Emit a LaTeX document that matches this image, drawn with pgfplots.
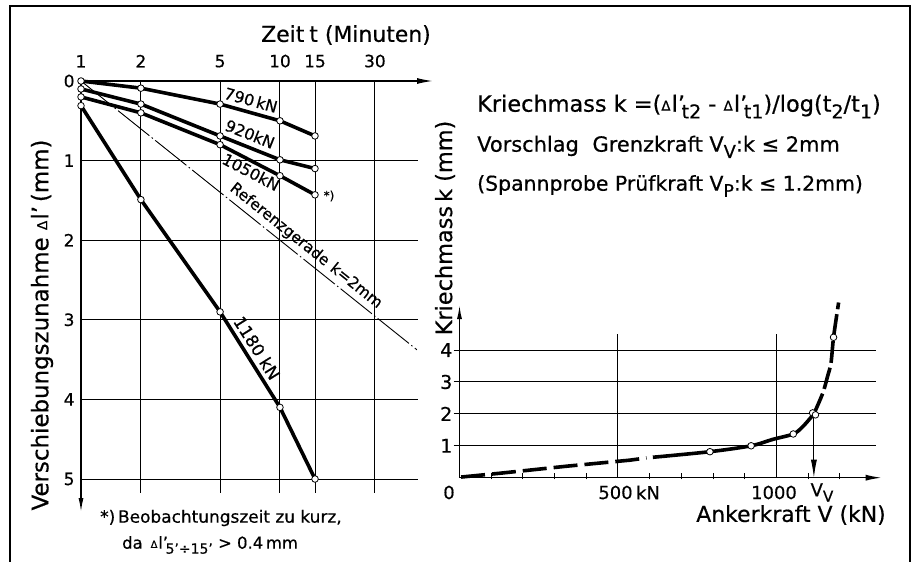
\documentclass[border=0pt]{standalone}
\usepackage{fontspec}
\setmainfont{DejaVu Sans}[FakeBold=0.5]
\usepackage{graphicx}
\usepackage{pgfplots}
\pgfplotsset{compat=1.18}
\usetikzlibrary{arrows.meta}
\newcommand\fs[1]{\fontsize{#1}{#1}\selectfont}
\newcommand\dl{\raisebox{0.05em}{\scalebox{0.6}{Δ}}\kern0.05em l'}
\newcommand\sub[1]{\raisebox{-0.3em}{\scalebox{0.85}{#1}}}
\pgfplotsset{ser/.style={line width=3.6bp, black, mark=*, mark size=3.3bp,
  mark options={fill=white, draw=black, line width=0.8bp, solid}}}
\begin{document}
\begin{tikzpicture}
\useasboundingbox (0,0) rectangle (917bp,562bp);
\fill[white] (0,0) rectangle (917bp,562bp);
\draw[line width=1.5bp] (10bp,-10bp) rectangle (910bp,556bp);

\begin{axis}[at={(81bp,481bp)}, anchor=north west, scale only axis,
 width=337bp, height=412bp,
 xmode=log, xmin=1, xmax=49.4, ymin=0, ymax=5.176, y dir=reverse,
 axis x line*=top, axis y line*=left,
 x axis line style={line width=1.4bp, -{Latex[length=16bp,width=6bp]}, shorten >=-15bp},
 y axis line style={line width=1.4bp, -{Latex[length=14bp,width=5bp]}, shorten >=-19bp},
 xtick={1,2,5,10,15,30}, xticklabels={1,2,5,10,15,30},
 ytick={0,1,2,3,4,5}, yticklabels={0,1,2,3,4,5},
 major tick length=0pt,
 xmajorgrids, ymajorgrids, grid style={line width=1bp, black},
 tick label style={font=\fs{17}},
 xticklabel style={yshift=10bp},
 yticklabel style={xshift=-3bp},
 clip=false]
\addplot[ser] coordinates {(1,0) (2,0.09) (5,0.29) (10,0.50) (15,0.69)};
\addplot[ser] coordinates {(1,0.10) (2,0.29) (5,0.69) (10,0.99) (15,1.10)};
\addplot[ser] coordinates {(1,0.20) (2,0.40) (5,0.80) (10,1.19) (15,1.43)};
\addplot[ser] coordinates {(1,0.31) (2,1.49) (5,2.90) (10,4.10) (15,5.0)};
\addplot[line width=0.9bp, black, dash pattern=on 40bp off 3bp on 1.5bp off 3bp] coordinates {(1,0) (48.8,3.377)};
\end{axis}

\begin{axis}[at={(459.5bp,84.3bp)}, anchor=south west, scale only axis,
 width=416.2bp, height=143.6bp,
 xmin=0, xmax=1313, ymin=0, ymax=4.5,
 axis x line*=bottom, axis y line*=left,
 x axis line style={line width=1.4bp, -{Latex[length=16bp,width=6bp]}, shorten >=-6bp},
 y axis line style={line width=1.4bp, -{Latex[length=14bp,width=5bp]}, shorten >=-29bp},
 xtick={500,1000}, xticklabels={,,}, ytick={1,2,3,4}, yticklabels={1,2,3,4},
 xmajorgrids, ymajorgrids, grid style={line width=1bp, black},
 tick align=outside, major tick length=6bp,
 xtick style={draw=none}, ytick style={line width=1bp, black},
 yticklabel style={font=\fs{19}, inner sep=1bp},
 clip=false]
\pgfplotsinvokeforeach{100,200,300,400,600,700,800,900,1100,1200}{
  \draw[line width=1bp] (axis cs:#1,-0.05) -- (axis cs:#1,0.16);}
\addplot[line width=3.6bp, black, dash pattern=on 24bp off 7bp] coordinates {(5,0.02) (128,0.14) (338,0.36) (538,0.55) (590,0.62)};
\addplot[line width=3.6bp, black, smooth] coordinates {(610,0.64) (790,0.815) (920,1.0) (988,1.2) (1053,1.37) (1083,1.6) (1118,2.0)};
\addplot[line width=3.6bp, black, smooth, dash pattern=on 22bp off 5bp] coordinates {(1118,2.0) (1146,2.65) (1161,3.17) (1172,3.6) (1180,4.40) (1196,5.49)};
\addplot[only marks, mark=*, mark size=3.3bp, mark options={fill=white, draw=black, line width=0.8bp}] coordinates {(790,0.815) (920,1.0) (1053,1.37) (1114,2.03) (1123,1.97) (1180,4.40)};
\draw[line width=0.9bp, -{Latex[length=18bp,width=6bp]}] (axis cs:1118,1.97) -- (axis cs:1118,0);
\end{axis}

% left panel texts
\node[font=\fs{22}] at (346bp,527bp) {Zeit\hspace{5bp}t (Minuten)};
\node[font=\fs{23}, rotate=90] at (42bp,237bp) {Verschiebungszunahme \dl\,(mm)};
\node[font=\fs{16}, rotate=-15.5] at (251bp,462bp) {790\,kN};
\node[font=\fs{16}, rotate=-21.8] at (250bp,428bp) {920kN};
\node[font=\fs{16}, rotate=-27.6] at (251bp,390bp) {1050kN};
\node[font=\fs{15.5}, rotate=-38.7] at (306bp,316bp) {Referenzgerade\hspace{6bp}k=2mm};
\node[font=\fs{17}, rotate=-57.8] at (257bp,214bp) {1180 kN};
\node[font=\fs{12}] at (329bp,366bp) {*)};
\node[font=\fs{17}, anchor=west, inner sep=0pt] at (100bp,44bp) {*)\,Beobachtungszeit zu kurz,};
\node[font=\fs{16.5}, anchor=west, inner sep=0pt] at (122bp,17bp) {da\hspace{8bp}\dl\kern-0.15em\sub{5'÷15'} > 0.4\,mm};

% right panel texts
\node[font=\fs{22.5}, anchor=base west, inner sep=0pt] at (477bp,450.3bp) {Kriechmass k =(\dl\kern-0.15em\sub{t2} - \dl\kern-0.15em\sub{t1})/log(t\sub{2}/t\sub{1})};
\node[font=\fs{21}, anchor=base west, inner sep=0pt] at (477bp,410.3bp) {Vorschlag\hspace{7bp} Grenzkraft V\sub{V}:k ≤ 2mm};
\node[font=\fs{20.5}, anchor=base west, inner sep=0pt] at (477bp,371.3bp) {(Spannprobe Prüfkraft V\sub{P}:k ≤ 1.2mm)};
\node[font=\fs{22.5}, rotate=90] at (445bp,334bp) {Kriechmass\hspace{4bp}k (mm)};
\node[font=\fs{22}] at (791bp,47bp) {Ankerkraft V (kN)};
\node[font=\fs{18}] at (449bp,69.5bp) {0};
\node[font=\fs{18}] at (615.5bp,69.5bp) {500};
\node[font=\fs{18}] at (648bp,69.5bp) {kN};
\node[font=\fs{18}] at (774bp,69.5bp) {1000};
\node[font=\fs{18}] at (822bp,69.5bp) {V\sub{V}};
\end{tikzpicture}
\end{document}
